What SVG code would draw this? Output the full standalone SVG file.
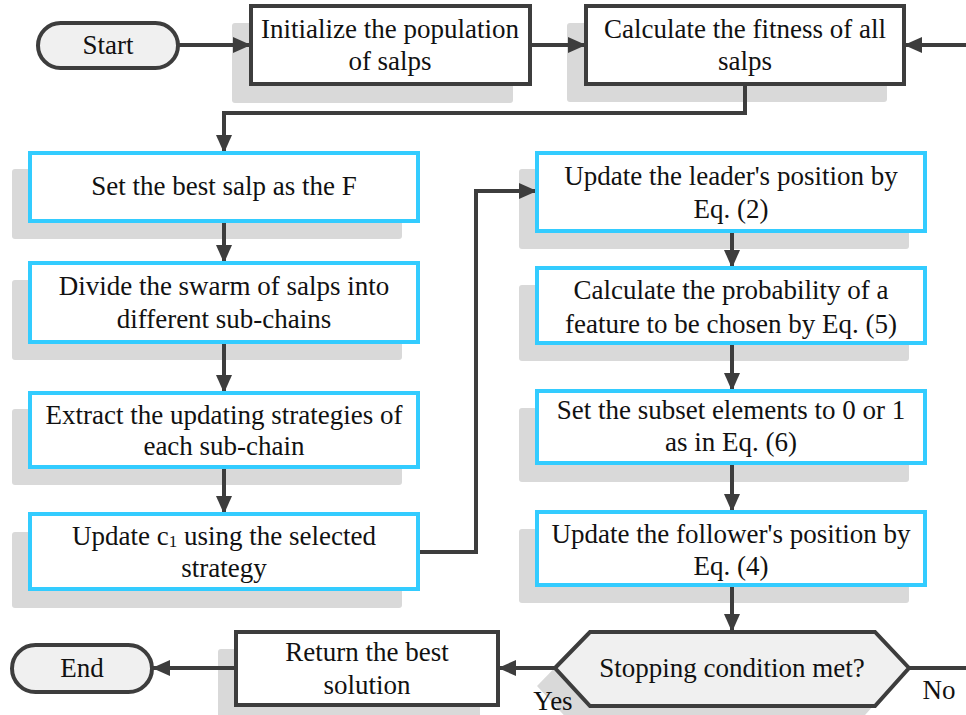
<svg xmlns="http://www.w3.org/2000/svg" width="966" height="715" viewBox="0 0 966 715">
<defs>
<style>
text{font-family:"Liberation Serif","Times New Roman",serif;font-size:27px;fill:#111;text-anchor:middle}
.sub{font-size:17px}
.sh{fill:#d9d9d9}
.bk{fill:#fff;stroke:#3d3d3d;stroke-width:4}
.cy{fill:#fff;stroke:#33ccff;stroke-width:4}
.term{fill:#f0f0f0;stroke:#3d3d3d;stroke-width:4}
.ln{fill:none;stroke:#3d3d3d;stroke-width:4}
</style>
<marker id="a" viewBox="0 0 18 16" refX="18" refY="8" markerWidth="18" markerHeight="16" orient="auto" markerUnits="userSpaceOnUse">
<path d="M0,0 L18,8 L0,16 Z" fill="#3d3d3d"/>
</marker>
</defs>

<g id="shadows">
<rect class="sh" x="232" y="23" width="281" height="80" rx="3"/>
<rect class="sh" x="567" y="23" width="320" height="79" rx="3"/>
<rect class="sh" x="12" y="169" width="390" height="70" rx="3"/>
<rect class="sh" x="12" y="280" width="390" height="80" rx="3"/>
<rect class="sh" x="12" y="409" width="390" height="76" rx="3"/>
<rect class="sh" x="12" y="532" width="390" height="76" rx="3"/>
<rect class="sh" x="519" y="169" width="390" height="80" rx="3"/>
<rect class="sh" x="519" y="285" width="390" height="76" rx="3"/>
<rect class="sh" x="519" y="408" width="390" height="74" rx="3"/>
<rect class="sh" x="519" y="529" width="390" height="74" rx="3"/>
<rect class="sh" x="218" y="649" width="262" height="75" rx="3"/>
<polygon class="sh" points="537,686 572,650 857,650 891,686 857,724 572,724"/>
</g>

<g id="connectors">
<line class="ln" x1="178" y1="45" x2="251" y2="45" marker-end="url(#a)"/>
<line class="ln" x1="530" y1="45" x2="586" y2="45" marker-end="url(#a)"/>
<line class="ln" x1="966" y1="45" x2="904" y2="45" marker-end="url(#a)"/>
<polyline class="ln" points="745,84 745,113 224,113 224,153" marker-end="url(#a)"/>
<line class="ln" x1="224" y1="221" x2="224" y2="263" marker-end="url(#a)"/>
<line class="ln" x1="224" y1="342" x2="224" y2="393" marker-end="url(#a)"/>
<line class="ln" x1="224" y1="467" x2="224" y2="514" marker-end="url(#a)"/>
<polyline class="ln" points="418,552 476,552 476,191 537,191" marker-end="url(#a)"/>
<line class="ln" x1="732" y1="231" x2="732" y2="268" marker-end="url(#a)"/>
<line class="ln" x1="732" y1="343" x2="732" y2="391" marker-end="url(#a)"/>
<line class="ln" x1="732" y1="463" x2="732" y2="512" marker-end="url(#a)"/>
<line class="ln" x1="732" y1="585" x2="732" y2="632" marker-end="url(#a)"/>
<line class="ln" x1="555" y1="668" x2="498" y2="668" marker-end="url(#a)"/>
<line class="ln" x1="236" y1="668" x2="152" y2="668" marker-end="url(#a)"/>
<line class="ln" x1="909" y1="668" x2="966" y2="668"/>
<text x="553" y="710">Yes</text>
<text x="939" y="699">No</text>
</g>

<g id="start">
<rect class="term" x="38" y="23" width="140" height="45" rx="22.5"/>
<text x="108" y="54">Start</text>
</g>

<g id="init">
<rect class="bk" x="251" y="6" width="279" height="78"/>
<text x="390" y="38">Initialize the population</text>
<text x="390" y="70">of salps</text>
</g>

<g id="fitness">
<rect class="bk" x="586" y="6" width="318" height="78"/>
<text x="745" y="38">Calculate the fitness of all</text>
<text x="745" y="70">salps</text>
</g>

<g id="setbest">
<rect class="cy" x="30" y="153" width="388" height="68"/>
<text x="224" y="195">Set the best salp as the F</text>
</g>

<g id="divide">
<rect class="cy" x="30" y="263" width="388" height="79"/>
<text x="224" y="295">Divide the swarm of salps into</text>
<text x="224" y="328">different sub-chains</text>
</g>

<g id="extract">
<rect class="cy" x="30" y="393" width="388" height="74"/>
<text x="224" y="424">Extract the updating strategies of</text>
<text x="224" y="455">each sub-chain</text>
</g>

<g id="updatec1">
<rect class="cy" x="30" y="514" width="388" height="75"/>
<text x="224" y="545">Update c<tspan class="sub" dy="2">1</tspan><tspan dy="-2"> using the selected</tspan></text>
<text x="224" y="577">strategy</text>
</g>

<g id="leader">
<rect class="cy" x="537" y="153" width="388" height="78"/>
<text x="731" y="185">Update the leader's position by</text>
<text x="731" y="218">Eq. (2)</text>
</g>

<g id="prob">
<rect class="cy" x="537" y="268" width="388" height="75"/>
<text x="731" y="299">Calculate the probability of a</text>
<text x="731" y="333">feature to be chosen by Eq. (5)</text>
</g>

<g id="subset">
<rect class="cy" x="537" y="391" width="388" height="72"/>
<text x="731" y="419">Set the subset elements to 0 or 1</text>
<text x="731" y="451">as in Eq. (6)</text>
</g>

<g id="follower">
<rect class="cy" x="537" y="512" width="388" height="73"/>
<text x="731" y="543">Update the follower's position by</text>
<text x="731" y="575">Eq. (4)</text>
</g>

<g id="stopping">
<polygon class="term" points="555,668 590,632 875,632 909,668 875,706 590,706"/>
<text x="732" y="677">Stopping condition met?</text>
</g>

<g id="return">
<rect class="bk" x="236" y="632" width="262" height="73"/>
<text x="367" y="661">Return the best</text>
<text x="367" y="694">solution</text>
</g>

<g id="end">
<rect class="term" x="12" y="645" width="140" height="47" rx="23.5"/>
<text x="82" y="677">End</text>
</g>
</svg>
